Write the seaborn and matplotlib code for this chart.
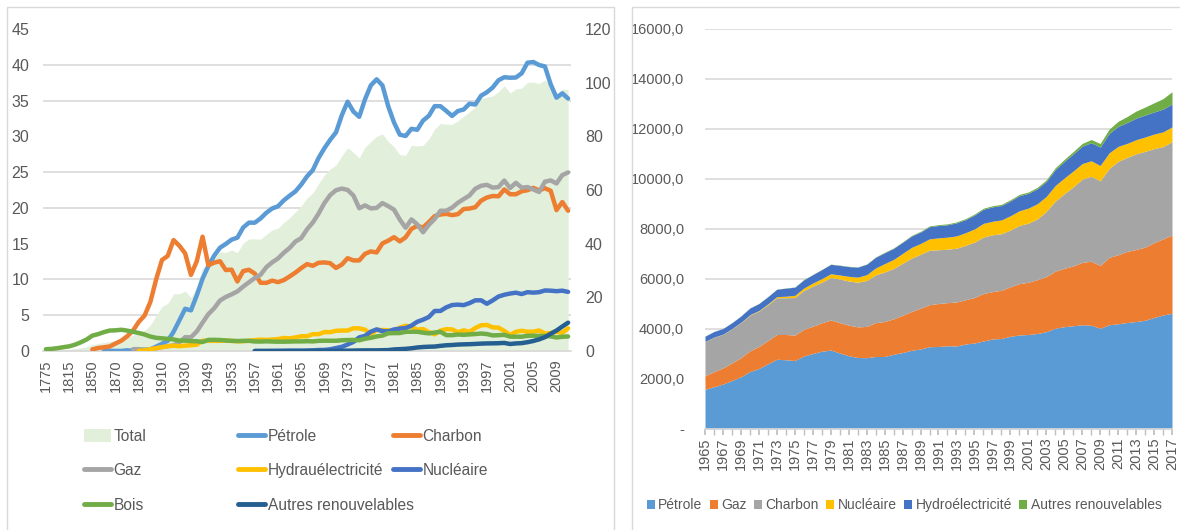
import numpy as np
import pandas as pd
import seaborn as sns
import matplotlib.pyplot as plt
from matplotlib.patches import Rectangle, Patch
from matplotlib.lines import Line2D
from matplotlib.ticker import FuncFormatter, MultipleLocator

# ---- left chart: US energy consumption by source (categories are irregular before 1949)
cats_early = ['1775', '1785', '1795', '1805', '1815', '1825', '1835', '1845', '1850', '1855',
              '1860', '1865', '1870', '1875', '1880', '1885', '1890', '1895', '1900', '1905',
              '1910', '1915', '1920', '1925', '1930', '1935', '1940', '1945']
cats_late = [str(y) for y in range(1949, 2012)]
categories = cats_early + cats_late

N = np.nan
total = [0.25, 0.30, 0.41, 0.53, 0.65, 0.88, 1.21, 1.60, 2.36, 2.79,
         3.16, 3.51, 3.95, 4.42, 5.00, 5.80, 7.00, 7.70, 9.60, 13.2,
         16.6, 17.7, 21.3, 21.3, 22.3, 19.9, 23.9, 31.0,
         31.98, 34.62, 36.97, 36.75, 37.66, 36.64, 40.21, 41.75, 41.79, 41.65,
         43.47, 45.09, 45.74, 47.83, 49.65, 51.82, 54.02, 57.02, 58.91, 62.42,
         65.62, 67.84, 69.29, 72.70, 75.71, 73.99, 71.97, 75.99, 78.00, 79.99,
         80.90, 78.07, 76.11, 73.10, 72.97, 76.63, 76.39, 76.64, 79.05, 82.71,
         84.79, 84.49, 84.43, 85.78, 87.42, 89.10, 91.03, 94.02, 94.60, 95.02,
         96.65, 98.82, 96.17, 97.65, 97.97, 100.09, 100.19, 99.62, 101.02, 98.90,
         94.18, 97.70, 97.30]
petrole = [N] * 10 + [0.003, 0.02, 0.01, 0.01, 0.10, 0.04, 0.16, 0.17, 0.23, 0.61,
                      1.01, 1.42, 2.68, 4.28, 5.90, 5.68, 7.76, 10.11,
           11.88, 13.32, 14.43, 14.96, 15.56, 15.84, 17.26, 17.94, 17.93, 18.53,
           19.32, 19.92, 20.22, 21.05, 21.70, 22.30, 23.25, 24.40, 25.28, 26.98,
           28.34, 29.52, 30.56, 32.95, 34.84, 33.46, 32.73, 35.18, 37.12, 37.97,
           37.12, 34.20, 31.93, 30.23, 30.05, 31.05, 30.92, 32.20, 32.87, 34.22,
           34.21, 33.55, 32.85, 33.53, 33.75, 34.56, 34.44, 35.68, 36.16, 36.82,
           37.84, 38.26, 38.19, 38.22, 38.81, 40.29, 40.39, 39.96, 39.77, 37.28,
           35.40, 36.01, 35.28]
charbon = [N] * 8 + [0.22, 0.42, 0.52, 0.63, 1.05, 1.44, 2.05, 2.84, 4.06, 4.95,
                     6.84, 10.0, 12.71, 13.29, 15.50, 14.71, 13.64, 10.63, 12.54, 15.97,
           11.98, 12.35, 12.55, 11.31, 11.37, 9.72, 11.17, 11.35, 10.82, 9.53,
           9.52, 9.84, 9.62, 9.91, 10.41, 10.96, 11.58, 12.14, 11.91, 12.33,
           12.38, 12.27, 11.60, 12.08, 12.97, 12.66, 12.66, 13.58, 13.92, 13.77,
           15.04, 15.42, 15.91, 15.32, 15.89, 17.07, 17.48, 17.26, 18.01, 18.85,
           19.07, 19.17, 18.99, 19.12, 19.84, 19.91, 20.09, 21.00, 21.45, 21.66,
           21.62, 22.58, 21.91, 21.90, 22.32, 22.47, 22.80, 22.45, 22.75, 22.39,
           19.69, 20.82, 19.60]
gaz = [N] * 15 + [0.25, 0.26, 0.15, 0.25, 0.37, 0.54, 0.67, 0.81, 1.21, 1.93, 1.92, 2.73, 3.97,
       5.15, 5.97, 7.05, 7.55, 7.91, 8.33, 9.00, 9.61, 10.19, 10.66,
       11.72, 12.39, 12.93, 13.73, 14.40, 15.29, 15.77, 17.00, 17.95, 19.21,
       20.68, 21.80, 22.47, 22.70, 22.51, 21.73, 19.95, 20.35, 19.93, 20.00,
       20.67, 20.24, 19.75, 18.36, 17.22, 18.39, 17.70, 16.59, 17.64, 18.45,
       19.60, 19.60, 20.03, 20.71, 21.23, 21.73, 22.67, 23.09, 23.22, 22.83,
       22.91, 23.82, 22.77, 23.51, 22.83, 22.91, 22.58, 22.22, 23.66, 23.84,
       23.42, 24.58, 24.96]
hydro = [N] * 16 + [0.02, 0.09, 0.25, 0.39, 0.54, 0.66, 0.74, 0.67, 0.75, 0.81, 0.88, 1.44,
         1.43, 1.42, 1.42, 1.47, 1.41, 1.36, 1.36, 1.44, 1.52, 1.59,
         1.55, 1.61, 1.66, 1.82, 1.77, 1.89, 2.06, 2.06, 2.35, 2.35,
         2.65, 2.63, 2.82, 2.86, 2.86, 3.18, 3.16, 2.98, 2.33, 2.94,
         2.93, 2.90, 2.76, 3.27, 3.53, 3.39, 2.97, 3.07, 2.64, 2.33,
         2.84, 3.05, 3.02, 2.62, 2.89, 2.68, 3.21, 3.59, 3.64, 3.30,
         3.27, 2.81, 2.24, 2.69, 2.83, 2.69, 2.70, 2.87, 2.45, 2.51,
         2.67, 2.54, 3.17]
nucleaire = [N] * 36 + [0.00, 0.00, 0.00, 0.01, 0.02, 0.03, 0.04, 0.04, 0.04, 0.06,
                        0.09, 0.14, 0.15, 0.24, 0.41, 0.58, 0.91, 1.27, 1.90, 2.11,
                        2.70, 3.02, 2.78, 2.74, 3.01, 3.13, 3.20, 3.55, 4.08, 4.38,
                        4.75, 5.59, 5.60, 6.10, 6.42, 6.48, 6.41, 6.69, 7.08, 7.09,
                        6.60, 7.07, 7.61, 7.86, 8.03, 8.15, 7.96, 8.22, 8.16, 8.22,
                        8.46, 8.43, 8.36, 8.43, 8.26]
bois = [0.25, 0.30, 0.40, 0.53, 0.65, 0.88, 1.21, 1.60, 2.14, 2.36,
        2.64, 2.86, 2.89, 2.97, 2.85, 2.68, 2.52, 2.31, 2.02, 1.84,
        1.77, 1.70, 1.61, 1.45, 1.45, 1.38, 1.36, 1.26,
        1.55, 1.56, 1.54, 1.47, 1.42, 1.39, 1.42, 1.42, 1.33, 1.32,
        1.35, 1.32, 1.30, 1.30, 1.32, 1.34, 1.34, 1.37, 1.34, 1.42,
        1.44, 1.43, 1.43, 1.50, 1.53, 1.54, 1.50, 1.71, 1.84, 2.04,
        2.15, 2.48, 2.50, 2.51, 2.68, 2.69, 2.69, 2.56, 2.46, 2.58,
        2.68, 2.22, 2.21, 2.31, 2.26, 2.32, 2.37, 2.44, 2.37, 2.18,
        2.21, 2.26, 2.01, 2.00, 2.00, 2.12, 2.14, 2.11, 2.10, 2.04,
        1.89, 1.99, 2.03]
autres = [N] * 36 + [0.00, 0.00, 0.00, 0.00, 0.00, 0.00, 0.01, 0.01, 0.01, 0.01,
                     0.01, 0.01, 0.02, 0.02, 0.02, 0.04, 0.05, 0.06, 0.08, 0.09,
                     0.09, 0.09, 0.11, 0.13, 0.22, 0.26, 0.30, 0.38, 0.49, 0.56,
                     0.60, 0.62, 0.72, 0.80, 0.84, 0.90, 0.93, 0.95, 0.99, 1.03,
                     1.06, 1.07, 1.09, 1.13, 0.98, 1.06, 1.10, 1.23, 1.40, 1.62,
                     1.93, 2.41, 2.86, 3.42, 3.96]

line_names = ['Pétrole', 'Charbon', 'Gaz', 'Hydrauélectricité', 'Nucléaire', 'Bois',
              'Autres renouvelables']
line_colors = ['#5B9BD5', '#ED7D31', '#A5A5A5', '#FFC000', '#4472C4', '#70AD47', '#255E91']

# ---- right chart: world primary energy consumption (Mtoe), stacked
years_r = list(range(1965, 2018))
r_petrole = [1587, 1690, 1800, 1940, 2090, 2300, 2420, 2610, 2790, 2770,
             2740, 2920, 3020, 3110, 3160, 3040, 2930, 2860, 2853, 2900,
             2900, 2990, 3060, 3150, 3200, 3293, 3300, 3330, 3320, 3400,
             3440, 3520, 3600, 3620, 3710, 3760, 3780, 3820, 3890, 4030,
             4093, 4130, 4170, 4150, 4027, 4170, 4210, 4260, 4300, 4350,
             4460, 4560, 4627]
r_gaz = [550, 600, 645, 700, 765, 830, 880, 930, 990, 1010,
         1015, 1065, 1090, 1135, 1200, 1215, 1225, 1225, 1250, 1355,
         1400, 1420, 1490, 1555, 1630, 1680, 1720, 1725, 1760, 1770,
         1820, 1900, 1895, 1930, 1980, 2055, 2090, 2155, 2205, 2285,
         2335, 2395, 2495, 2560, 2515, 2695, 2760, 2845, 2880, 2925,
         2995, 3045, 3130]
r_charbon = [1360, 1380, 1340, 1365, 1400, 1425, 1415, 1430, 1470, 1470,
             1505, 1555, 1605, 1625, 1700, 1745, 1765, 1785, 1840, 1910,
             1980, 2010, 2080, 2130, 2160, 2180, 2150, 2140, 2150, 2175,
             2215, 2260, 2275, 2260, 2270, 2330, 2365, 2425, 2610, 2800,
             2985, 3160, 3330, 3400, 3385, 3555, 3735, 3760, 3830, 3830,
             3760, 3690, 3733]
r_nucleaire = [6, 8, 9, 12, 14, 18, 25, 35, 46, 61,
               86, 100, 125, 145, 150, 161, 187, 203, 230, 277,
               335, 364, 396, 430, 433, 453, 475, 479, 494, 506,
               526, 545, 540, 552, 571, 584, 601, 611, 599, 625,
               627, 635, 622, 619, 614, 626, 600, 560, 563, 575,
               583, 591, 596]
r_hydro = [209, 222, 226, 236, 252, 266, 278, 288, 295, 322,
           327, 330, 336, 361, 377, 385, 389, 400, 416, 428,
           437, 442, 443, 455, 457, 487, 495, 496, 522, 524,
           557, 564, 573, 577, 589, 603, 590, 597, 599, 636,
           659, 684, 697, 725, 736, 780, 797, 834, 862, 880,
           883, 910, 918]
r_autres = [5, 5, 5, 5, 6, 6, 6, 7, 7, 8,
            8, 8, 8, 9, 9, 10, 11, 12, 13, 15,
            17, 18, 20, 23, 30, 32, 34, 36, 37, 39,
            41, 43, 46, 48, 50, 52, 53, 60, 64, 73,
            83, 94, 108, 125, 142, 168, 205, 241, 283, 318,
            367, 419, 487]
r_names = ['Pétrole', 'Gaz', 'Charbon', 'Nucléaire', 'Hydroélectricité', 'Autres renouvelables']
r_colors = ['#5B9BD5', '#ED7D31', '#A5A5A5', '#FFC000', '#4472C4', '#70AD47']

GRID = '#D9D9D9'
TXT = '#595959'
W, H = 1180, 530


def box(x0, y0, x1, y1):
    # pixel box (top-left origin) -> figure fraction rect
    return [x0 / W, 1 - y1 / H, (x1 - x0) / W, (y1 - y0) / H]


def main():
    sns.set_theme(style='white')
    plt.rcParams['font.family'] = ['Liberation Sans Narrow', 'DejaVu Sans Condensed',
                                   'Liberation Sans', 'DejaVu Sans']
    plt.rcParams['font.stretch'] = 'condensed'

    fig = plt.figure(figsize=(W / 100, H / 100), dpi=100)
    fig.patch.set_facecolor('white')

    # chart frames
    for x0, x1 in [(7, 614), (632, 1185)]:
        fig.add_artist(Rectangle((x0 / W, -0.05), (x1 - x0) / W, 1.05 - 7 / H,
                                 transform=fig.transFigure, fill=False,
                                 edgecolor=GRID, lw=1))

    # ---------- left chart ----------
    ax = fig.add_axes(box(43, 29, 571, 351))
    ax2 = ax.twinx()
    ax.set_zorder(2)
    ax2.set_zorder(1)
    ax.patch.set_visible(False)

    x = np.arange(len(categories))
    ax2.fill_between(x, total, color='#E2EFDA', lw=0, zorder=2)
    ax2.set_ylim(0, 120)
    ax2.set_yticks(range(0, 121, 20))
    ax2.set_yticks(np.linspace(0, 120, 10), minor=True)
    ax2.grid(True, which='minor', axis='y', color=GRID, lw=1.2)
    ax2.grid(False, which='major')
    ax2.set_axisbelow(True)

    df = pd.DataFrame({'idx': x})
    for name, vals in zip(line_names, [petrole, charbon, gaz, hydro, nucleaire, bois, autres]):
        df[name] = vals
    long = df.melt(id_vars='idx', var_name='source', value_name='val').dropna()
    sns.lineplot(data=long, x='idx', y='val', hue='source', hue_order=line_names,
                 palette=line_colors, lw=3.2, ax=ax, legend=False,
                 solid_joinstyle='round', solid_capstyle='round')

    ax.set_xlim(-0.5, len(categories) - 0.5)
    ax.set_ylim(0, 45)
    ax.set_yticks(range(0, 46, 5))
    ax.set_xticks(x[::4])
    ax.set_xticklabels(categories[::4], rotation=90)
    ax.set_xlabel('')
    ax.set_ylabel('')
    ax.grid(False)
    for a in (ax, ax2):
        for s in a.spines.values():
            s.set_visible(False)
    ax2.spines['bottom'].set_visible(True)
    ax2.spines['bottom'].set_color(GRID)
    ax.tick_params(axis='y', length=0, pad=10, labelsize=11.5, labelcolor=TXT)
    ax.tick_params(axis='x', length=0, pad=6, labelsize=10.5, labelcolor=TXT)
    ax2.tick_params(axis='y', which='both', length=0, pad=10, labelsize=11.5, labelcolor=TXT)

    # legend in three equal columns
    col_x = [84, 238, 393]
    entries = [('Total', Patch(facecolor='#E2EFDA', edgecolor='none'))]
    entries += [(n, Line2D([], [], color=c, lw=3.5)) for n, c in zip(line_names, line_colors)]
    cols = [[entries[0], entries[3], entries[6]],
            [entries[1], entries[4], entries[7]],
            [entries[2], entries[5]]]
    for cx, col in zip(col_x, cols):
        fig.legend([h for _, h in col], [n for n, _ in col], loc='upper left',
                   bbox_to_anchor=(cx / W, 1 - 429 / H), frameon=False, ncol=1,
                   fontsize=11.2, labelcolor=TXT, handlelength=1.75, handleheight=0.85,
                   handletextpad=0.15, labelspacing=1.24, borderpad=0, borderaxespad=0)

    # ---------- right chart ----------
    axr = fig.add_axes(box(705, 29, 1172, 429))
    axr.stackplot(years_r, r_petrole, r_gaz, r_charbon, r_nucleaire, r_hydro, r_autres,
                  colors=r_colors, lw=0, zorder=2)
    axr.set_xlim(1965, 2017)
    axr.set_ylim(0, 16000)
    axr.set_yticks(range(0, 16001, 2000))
    axr.yaxis.set_major_formatter(FuncFormatter(lambda v, p: '-' if v == 0 else f'{int(v)},0'))
    axr.set_xticks(range(1965, 2018, 2))
    axr.set_xticklabels([str(y) for y in range(1965, 2018, 2)], rotation=90)
    axr.xaxis.set_minor_locator(MultipleLocator(1))
    axr.grid(True, axis='y', color=GRID, lw=1.2)
    axr.grid(False, axis='x')
    axr.set_axisbelow(True)
    for s in axr.spines.values():
        s.set_visible(False)
    axr.spines['bottom'].set_visible(True)
    axr.spines['bottom'].set_color(GRID)
    axr.tick_params(axis='y', length=0, pad=15, labelsize=10.5, labelcolor=TXT)
    axr.tick_params(axis='x', which='both', bottom=True, direction='out', length=4,
                    color='#BFBFBF', pad=2, labelsize=10.5, labelcolor=TXT)

    r_handles = [Patch(facecolor=c, edgecolor='none') for c in r_colors]
    fig.legend(r_handles, r_names, loc='center', bbox_to_anchor=(904 / W, 1 - 505 / H),
               ncol=6, frameon=False, fontsize=10, labelcolor=TXT,
               handlelength=0.6, handleheight=0.6, handletextpad=0.25,
               columnspacing=0.5, borderpad=0)

    fig.savefig('out.png', dpi=100, facecolor='white')
    plt.close(fig)


if __name__ == '__main__':
    main()
